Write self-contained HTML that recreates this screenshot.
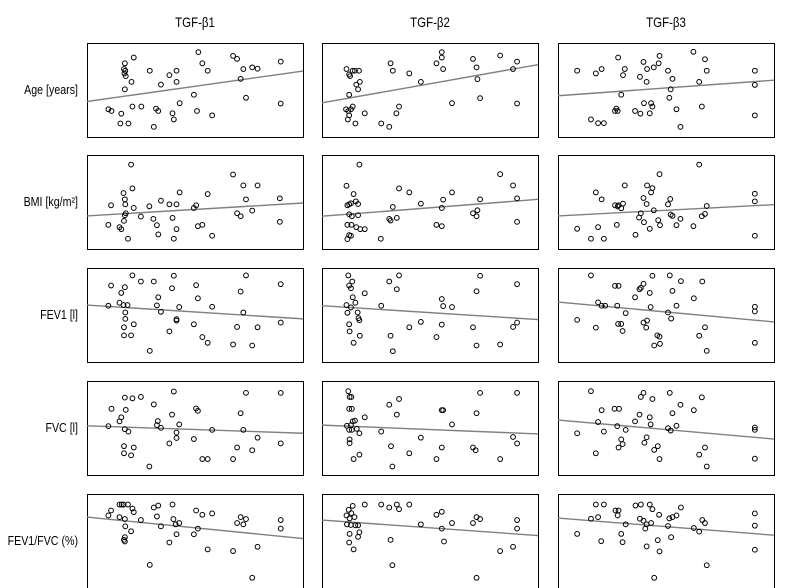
<!DOCTYPE html>
<html><head><meta charset="utf-8">
<style>
html,body{margin:0;padding:0;background:#fff;}
svg{display:block;font-family:"Liberation Sans",sans-serif;}
</style></head>
<body>
<svg id="chart" width="786" height="588" viewBox="0 0 786 588"></svg>
<script>
// column titles and row labels
const colTitles = ["TGF-β1","TGF-β2","TGF-β3"];
const rowLabels = ["Age [years]","BMI [kg/m²]","FEV1 [l]","FVC [l]","FEV1/FVC (%)"];
// data domains per column (x) and per row (y, larger = lower)
const xDomains = [[15,500],[543,1028],[1072,1557]];
const yDomains = [[40,318],[28,312],[28,307],[18,295],[12,297]];

// Age
const ageB1 = [[63,236],[70,241],[90,278],[92,249],[100,100],[98,117],[101,122],[99,130],[102,138],[100,177],[108,278],[115,155],[117,228],[120,83],[137,228],[156,122],[165,288],[170,234],[175,241],[181,163],[200,135],[207,248],[210,266],[216,122],[216,155],[223,218],[255,193],[262,241],[265,67],[274,100],[286,122],[296,254],[343,78],[352,87],[360,146],[366,117],[372,202],[386,112],[398,116],[450,95],[450,219]];
const ageB2 = [[598,117],[604,133],[606,138],[612,122],[617,122],[626,122],[628,155],[620,163],[624,177],[604,193],[597,236],[602,241],[608,236],[612,228],[604,254],[601,266],[618,278],[639,248],[676,278],[694,288],[697,100],[702,122],[710,248],[716,228],[739,130],[765,155],[800,100],[812,67],[812,83],[815,117],[835,218],[882,87],[890,112],[892,147],[898,203],[943,77],[972,117],[981,95],[981,219]];
const ageB3 = [[1115,122],[1146,266],[1157,130],[1162,277],[1170,117],[1175,277],[1200,241],[1203,234],[1206,241],[1207,83],[1214,193],[1218,135],[1222,117],[1245,241],[1256,140],[1257,249],[1264,96],[1265,218],[1271,155],[1272,117],[1278,248],[1281,218],[1284,228],[1287,112],[1298,100],[1300,78],[1319,122],[1322,202],[1325,177],[1329,146],[1338,236],[1347,288],[1376,66],[1389,155],[1395,228],[1402,88],[1406,122],[1514,122],[1514,164],[1514,254]];
// BMI
const bmiB1 = [[114,57],[69,180],[63,239],[88,246],[92,252],[97,143],[100,162],[101,177],[102,204],[100,210],[98,227],[107,281],[117,129],[120,188],[136,214],[155,183],[164,221],[172,240],[175,268],[181,166],[200,177],[207,218],[210,281],[216,177],[216,252],[223,141],[255,188],[260,180],[264,243],[274,239],[286,146],[296,272],[343,87],[352,204],[360,213],[366,120],[372,162],[386,196],[398,120],[448,159],[448,230]];
const bmiB2 = [[627,57],[598,121],[614,146],[600,180],[604,177],[608,174],[619,168],[624,176],[604,207],[610,213],[624,210],[600,239],[609,239],[620,246],[629,252],[639,252],[604,270],[608,272],[600,282],[675,281],[694,221],[697,226],[702,185],[711,218],[716,129],[739,141],[765,175],[800,239],[812,243],[812,188],[815,163],[835,141],[882,204],[890,213],[892,195],[898,162],[943,86],[972,120],[981,159],[981,230]];
const bmiB3 = [[1115,251],[1146,281],[1157,141],[1162,246],[1170,162],[1175,281],[1200,180],[1204,239],[1206,183],[1208,180],[1214,189],[1218,175],[1222,120],[1246,269],[1254,217],[1258,204],[1264,158],[1265,231],[1271,176],[1272,120],[1278,251],[1281,141],[1284,128],[1287,195],[1297,225],[1300,86],[1301,240],[1319,177],[1324,161],[1325,208],[1329,212],[1338,240],[1347,221],[1376,243],[1389,57],[1395,213],[1402,206],[1406,182],[1514,145],[1514,168],[1514,272]];
// FEV1
const fev1B1 = [[63,140],[69,80],[88,131],[92,102],[97,138],[100,85],[101,160],[101,179],[106,138],[98,204],[98,228],[114,228],[117,50],[120,195],[136,68],[156,274],[165,68],[172,139],[175,115],[181,158],[200,216],[206,88],[210,51],[216,184],[216,180],[222,144],[255,195],[260,79],[264,118],[274,233],[286,250],[296,143],[343,255],[352,203],[360,98],[366,160],[372,50],[386,258],[398,204],[450,76],[450,190]];
const fev1B2 = [[602,50],[611,68],[604,80],[608,88],[612,115],[598,138],[618,131],[608,145],[600,161],[623,160],[625,177],[627,183],[604,195],[605,216],[614,250],[628,229],[639,103],[676,140],[694,68],[697,229],[702,275],[711,91],[716,50],[739,204],[765,188],[800,233],[812,120],[812,196],[815,141],[835,144],[882,204],[890,97],[890,258],[898,51],[943,255],[972,203],[981,76],[981,190]];
const fev1B3 = [[1115,182],[1146,50],[1157,205],[1162,130],[1170,140],[1178,140],[1200,81],[1205,140],[1208,81],[1207,194],[1214,194],[1217,215],[1224,162],[1245,115],[1255,91],[1258,87],[1264,75],[1264,190],[1270,205],[1272,184],[1278,102],[1280,144],[1284,51],[1288,258],[1295,228],[1300,232],[1301,253],[1319,160],[1323,50],[1326,178],[1329,96],[1338,140],[1348,67],[1377,118],[1389,229],[1396,68],[1402,204],[1406,274],[1514,143],[1514,157],[1514,250]];
// FVC
const fvcB1 = [[63,151],[70,100],[88,137],[92,125],[100,67],[102,103],[100,160],[108,167],[98,210],[98,231],[114,237],[117,69],[120,214],[136,65],[155,270],[165,87],[172,148],[174,136],[181,156],[200,202],[206,117],[210,49],[216,170],[216,186],[222,146],[255,189],[260,99],[264,106],[274,248],[286,248],[296,162],[343,248],[352,214],[360,113],[366,162],[372,53],[386,222],[398,185],[450,53],[450,202]];
const fvcB2 = [[602,48],[605,65],[609,65],[604,100],[610,100],[612,137],[617,135],[608,148],[599,150],[604,162],[610,162],[621,159],[627,172],[605,190],[605,201],[614,248],[627,235],[639,125],[676,167],[694,88],[698,210],[701,270],[711,117],[716,71],[739,231],[765,185],[800,248],[812,214],[812,104],[815,104],[835,146],[882,214],[888,222],[890,113],[898,53],[943,248],[972,183],[981,53],[981,202]];
const fvcB3 = [[1115,172],[1146,48],[1157,231],[1162,139],[1170,104],[1175,167],[1199,100],[1209,100],[1205,151],[1208,214],[1214,190],[1217,204],[1224,162],[1245,137],[1255,117],[1258,65],[1264,53],[1266,200],[1271,184],[1278,125],[1280,146],[1284,71],[1288,221],[1296,210],[1300,248],[1319,157],[1323,53],[1325,164],[1329,113],[1338,150],[1347,88],[1377,104],[1389,235],[1395,66],[1402,214],[1406,270],[1514,155],[1514,162],[1514,247]];
// FEV1/FVC
const ratioB1 = [[63,77],[69,62],[88,44],[88,82],[93,44],[97,44],[100,88],[101,110],[107,44],[117,56],[120,67],[114,125],[100,143],[98,151],[100,156],[136,91],[156,227],[165,53],[172,80],[175,47],[181,110],[200,159],[207,44],[209,88],[214,104],[216,134],[222,100],[255,134],[260,62],[264,117],[274,75],[286,180],[296,71],[343,185],[352,100],[360,82],[366,104],[372,88],[386,266],[398,172],[450,91],[450,117]];
const ratioB2 = [[598,77],[603,60],[609,70],[612,48],[605,86],[616,82],[599,104],[608,106],[624,107],[605,133],[618,107],[627,128],[624,142],[604,159],[614,180],[639,44],[676,44],[694,53],[697,151],[701,228],[711,44],[716,58],[739,44],[765,104],[800,75],[812,117],[812,66],[817,156],[835,100],[882,100],[890,82],[890,266],[898,88],[943,185],[972,172],[981,91],[981,117]];
const ratioB3 = [[1115,133],[1146,87],[1157,44],[1162,82],[1169,155],[1175,44],[1201,62],[1206,77],[1208,62],[1214,133],[1217,158],[1224,104],[1246,47],[1256,87],[1258,44],[1264,93],[1268,117],[1271,104],[1271,171],[1278,44],[1281,100],[1284,58],[1288,266],[1296,152],[1299,75],[1300,186],[1319,109],[1322,86],[1326,143],[1329,82],[1338,77],[1348,53],[1377,115],[1389,126],[1396,91],[1402,100],[1406,228],[1514,71],[1514,108],[1514,181]];

// regression lines: y value at domain start and end
const lineAge = [[213,123],[217,104],[196,150]];
const lineBmi = [[212,173],[213,162],[212,178]];
const lineFev1 = [[138,179],[140,181],[129,188]];
const lineFvc = [[150,172],[148,174],[133,189]];
const lineRatio = [[82,147],[91,138],[85,137]];

const panels = [[ageB1,ageB2,ageB3],[bmiB1,bmiB2,bmiB3],[fev1B1,fev1B2,fev1B3],[fvcB1,fvcB2,fvcB3],[ratioB1,ratioB2,ratioB3]];
const lines = [lineAge,lineBmi,lineFev1,lineFvc,lineRatio];
const rowKeys = ["age","bmi","fev1","fvc","fev1-fvc"];

const NS = "http://www.w3.org/2000/svg";
const svg = document.getElementById("chart");
const colLeft = [87,322,558], panelW = 216;
const rowTop = [43,155,268,381,494], panelH = 94;

function xScale(c, v){ const d = xDomains[c]; return colLeft[c] + (v - d[0]) / (d[1] - d[0]) * panelW; }
function yScale(r, v){ const d = yDomains[r]; return rowTop[r] + (v - d[0]) / (d[1] - d[0]) * panelH; }
function mk(tag, attrs){ const e = document.createElementNS(NS, tag); for (const k in attrs) e.setAttribute(k, attrs[k]); return e; }

colTitles.forEach((t, c) => {
  const cx = colLeft[c] + panelW/2;
  const e = mk("text", {x: 0, y: 0, "text-anchor": "middle", "font-size": 14, fill: "#000", transform: "translate(" + cx + ",27) scale(0.82,1)"});
  
  
  e.textContent = t; svg.appendChild(e);
});
rowLabels.forEach((t, r) => {
  const cy = rowTop[r] + panelH/2 + 4;
  const e = mk("text", {x: 0, y: 0, "text-anchor": "end", "font-size": 13, fill: "#000", transform: "translate(78," + cy + ") scale(0.82,1)"});
  
  
  e.textContent = t; svg.appendChild(e);
});

for (let r = 0; r < 5; r++) {
  for (let c = 0; c < 3; c++) {
    const g = mk("g", {});
    
    
    svg.appendChild(g);
    const box = mk("rect", {x: colLeft[c] + 0.5, y: rowTop[r] + 0.5, width: panelW, height: panelH, fill: "none", stroke: "#000", "stroke-width": 1});
    
    
    g.appendChild(box);
    const d = xDomains[c], L = lines[r][c];
    const ln = mk("line", {x1: xScale(c, d[0]), y1: yScale(r, L[0]), x2: xScale(c, d[1]), y2: yScale(r, L[1]), stroke: "#808080", "stroke-width": 1.4});
    
    
    g.appendChild(ln);
    panels[r][c].forEach(p => {
      const ci = mk("circle", {cx: xScale(c, p[0]), cy: yScale(r, p[1]), r: 2.4, fill: "none", stroke: "#000", "stroke-width": 1});
      
      
      g.appendChild(ci);
    });
  }
}
</script>
</body></html>
